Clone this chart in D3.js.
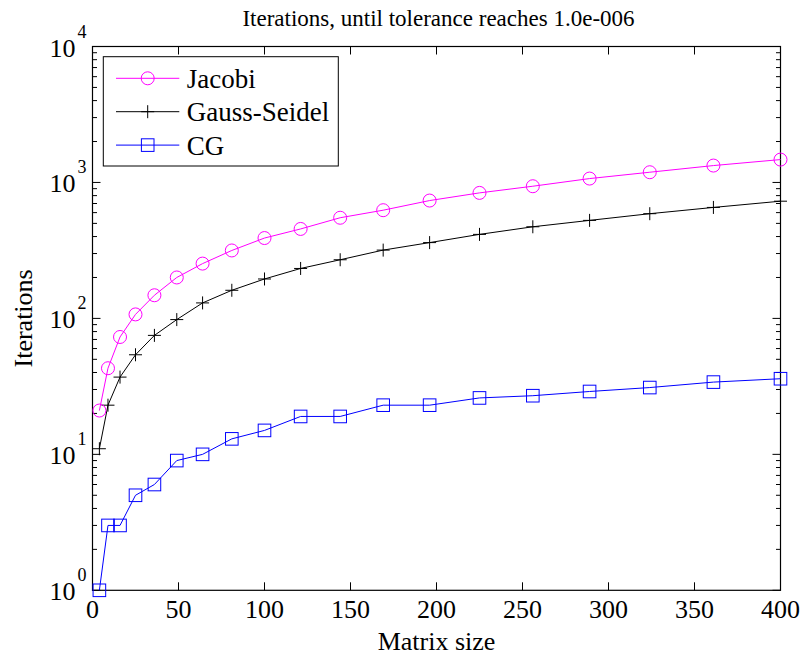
<!DOCTYPE html>
<html>
<head>
<meta charset="utf-8">
<script src="https://cdn.jsdelivr.net/npm/d3@7"></script>
<style>
  body { margin: 0; background: #fff; }
  text { font-family: "Liberation Serif", serif; }
</style>
</head>
<body>
<svg id="chart" width="804" height="657"></svg>
<script>
// matrix sizes (n^2)
const sizes = [4, 9, 16, 25, 36, 49, 64, 81, 100, 121, 144, 169, 196, 225, 256, 289, 324, 361, 400];
const jacobi = [21, 43, 73, 107, 148, 200, 253, 316, 390, 455, 550, 625, 736, 838, 938, 1068, 1189, 1331, 1473];
const gaussSeidel = [11, 23, 37, 54, 75, 98, 130, 161, 195, 233, 270, 318, 361, 415, 472, 526, 589, 655, 728];
const cg = [1, 3, 3, 5, 6, 9, 10, 13, 15, 19, 19, 23, 23, 26, 27, 29, 31, 34, 36];
const xTicks = [0, 50, 100, 150, 200, 250, 300, 350, 400];
const yDecades = [0, 1, 2, 3, 4];

var margin = ({top: 46.5, right: 23.5, bottom: 66.7, left: 92.5});
var svg = d3.select("#chart")
            .attr("font-family", "Liberation Serif, serif");
var width = 804 - margin.left - margin.right;
var height = 657 - margin.top - margin.bottom;
var g = svg.append("g").attr("transform", `translate(${margin.left},${margin.top})`);

var x = d3.scaleLinear().domain([0, 400]).range([0, width]);
var y = d3.scaleLog().domain([1, 10000]).range([height, 0]);

// box
g.append("rect")
 .attr("width", width).attr("height", height)
 .attr("fill", "none").attr("stroke", "#000").attr("stroke-width", 1.2);

// x ticks (inward, top and bottom)
xTicks.forEach(function(t) {
  g.append("line").attr("x1", x(t)).attr("x2", x(t)).attr("y1", height).attr("y2", height - 8).attr("stroke", "#000");
  g.append("line").attr("x1", x(t)).attr("x2", x(t)).attr("y1", 0).attr("y2", 8).attr("stroke", "#000");
  g.append("text")
   .attr("x", x(t)).attr("y", height + 28)
   .attr("text-anchor", "middle").attr("font-size", 26)
   .text(t);
});

// y ticks, major + minor
for (let e = 0; e < 4; e++) {
  for (let m = 2; m < 10; m++) {
    var v = m * Math.pow(10, e);
    g.append("line").attr("x1", 0).attr("x2", 4.5).attr("y1", y(v)).attr("y2", y(v)).attr("stroke", "#000");
    g.append("line").attr("x1", width).attr("x2", width - 4.5).attr("y1", y(v)).attr("y2", y(v)).attr("stroke", "#000");
  }
}
yDecades.forEach(function(e) {
  var v = Math.pow(10, e);
  g.append("line").attr("x1", 0).attr("x2", 8).attr("y1", y(v)).attr("y2", y(v)).attr("stroke", "#000");
  g.append("line").attr("x1", width).attr("x2", width - 8).attr("y1", y(v)).attr("y2", y(v)).attr("stroke", "#000");
  var lab = g.append("text")
   .attr("x", -6).attr("y", y(v) + 10)
   .attr("text-anchor", "end").attr("font-size", 26);
  lab.append("tspan").text("10");
  lab.append("tspan").attr("dx", 2).attr("dy", -19).attr("font-size", 18).text(e);
});

// axis labels and title
g.append("text")
 .attr("x", width / 2).attr("y", height + 60)
 .attr("text-anchor", "middle").attr("font-size", 26)
 .text("Matrix size");
g.append("text")
 .attr("transform", `translate(${-60.5},${height / 2}) rotate(-90)`)
 .attr("text-anchor", "middle").attr("font-size", 26)
 .text("Iterations");
g.append("text")
 .attr("x", width / 2 + 2).attr("y", -21)
 .attr("text-anchor", "middle").attr("font-size", 23)
 .text("Iterations, until tolerance reaches 1.0e-006");

const series = [
  {name: "Jacobi", values: jacobi, color: "#ff00ff", marker: "circle"},
  {name: "Gauss-Seidel", values: gaussSeidel, color: "#000000", marker: "plus"},
  {name: "CG", values: cg, color: "#0000ff", marker: "square"}
];

function drawMarker(sel, type, color) {
  if (type === "circle") {
    sel.append("circle").attr("r", 6.5).attr("fill", "none").attr("stroke", color).attr("stroke-width", 1);
  } else if (type === "square") {
    sel.append("rect").attr("x", -6.3).attr("y", -6.3).attr("width", 12.6).attr("height", 12.6)
       .attr("fill", "none").attr("stroke", color).attr("stroke-width", 1);
  } else {
    sel.append("path").attr("d", "M-6.5,0H6.5M0,-6.5V6.5").attr("stroke", color).attr("stroke-width", 1);
  }
}

var line = d3.line()
  .x(function(d) { return x(d[0]); })
  .y(function(d) { return y(d[1]); });

series.slice().reverse().forEach(function(s) {
  var pts = sizes.map(function(n, i) { return [n, s.values[i]]; });
  g.append("path").datum(pts)
   .attr("d", line)
   .attr("fill", "none").attr("stroke", s.color).attr("stroke-width", 1);
  g.selectAll(null).data(pts).enter().append("g")
   .attr("transform", function(d) { return `translate(${x(d[0])},${y(d[1])})`; })
   .each(function() { drawMarker(d3.select(this), s.marker, s.color); });
});

// legend
var lg = svg.append("g").attr("transform", "translate(103.3,56.7)");
lg.append("rect").attr("width", 235).attr("height", 109.3)
  .attr("fill", "#fff").attr("stroke", "#000").attr("stroke-width", 1);
series.forEach(function(s, i) {
  var row = lg.append("g").attr("transform", `translate(0,${21.6 + i * 33.4})`);
  row.append("line").attr("x1", 12.7).attr("x2", 76).attr("stroke", s.color).attr("stroke-width", 1);
  drawMarker(row.append("g").attr("transform", "translate(44.4,0)"), s.marker, s.color);
  row.append("text").attr("x", 83.5).attr("y", 9.5).attr("font-size", 27).text(s.name);
});
</script>
</body>
</html>
